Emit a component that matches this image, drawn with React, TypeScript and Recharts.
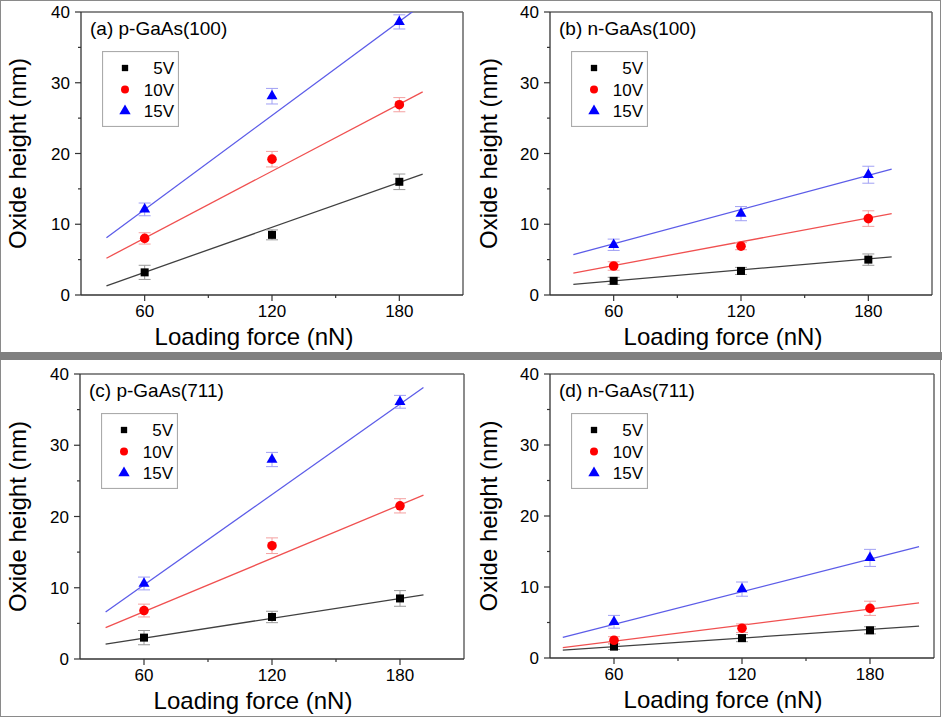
import React from 'react';
import {
  ComposedChart,
  Scatter,
  Line,
  XAxis,
  YAxis,
  ErrorBar,
  ReferenceLine,
  Legend,
  Symbols,
} from 'recharts';

const FONT = '"Liberation Sans", Arial, sans-serif';
const AXIS_COLOR = '#333';
const FRAME_COLOR = '#666';

const FORCES = [60, 120, 180];
const VOLTAGES = ['5V', '10V', '15V'];
const MARKER_COLORS = ['#000000', '#ff0000', '#0000ff'];
const FIT_COLORS = ['#404040', '#f05050', '#5c5ce8'];
const ERR_COLORS = ['#9a9a9a', '#f4a0a0', '#a0a0f4'];
const SHAPES = ['square', 'circle', 'triangle'];
const SHAPE_SIZES = [64, 72, 52];

const X_TICKS = [60, 90, 120, 150, 180];
const X_LABELS = [60, 120, 180];
const Y_TICKS = [0, 5, 10, 15, 20, 25, 30, 35, 40];
const Y_LABELS = [0, 10, 20, 30, 40];

const TITLES = ['(a) p-GaAs(100)', '(b) n-GaAs(100)', '(c) p-GaAs(711)', '(d) n-GaAs(711)'];

// oxide height (nm) per voltage (5V, 10V, 15V) at 60 / 120 / 180 nN
const HEIGHT_A = [[3.2, 8.5, 16.0], [8.0, 19.2, 26.9], [12.1, 28.1, 38.6]];
const HEIGHT_B = [[2.0, 3.4, 5.0], [4.1, 6.9, 10.8], [7.1, 11.5, 17.0]];
const HEIGHT_C = [[3.0, 5.9, 8.5], [6.8, 15.9, 21.5], [10.6, 28.0, 36.1]];
const HEIGHT_D = [[1.6, 2.8, 3.9], [2.5, 4.2, 7.0], [5.1, 9.7, 14.1]];

const ERR_A = [[1.0, 0.7, 1.1], [0.8, 1.1, 1.0], [0.9, 1.1, 1.0]];
const ERR_B = [[0.5, 0.5, 0.8], [0.6, 0.5, 1.1], [0.8, 1.0, 1.2]];
const ERR_C = [[1.0, 0.8, 1.1], [0.9, 1.1, 1.0], [0.9, 1.0, 0.9]];
const ERR_D = [[0.4, 0.5, 0.5], [0.5, 0.6, 1.0], [0.9, 1.0, 1.2]];

// linear fit end points
const FIT_X_A = [42, 191];
const FIT_Y_A = [[1.3, 17.1], [5.2, 28.7], [8.1, 41.1]];
const FIT_X_B = [41, 191];
const FIT_Y_B = [[1.5, 5.4], [3.1, 11.5], [5.7, 17.8]];
const FIT_X_C = [42, 191];
const FIT_Y_C = [[2.1, 9.0], [4.4, 23.0], [6.6, 38.1]];
const FIT_X_D = [36, 203];
const FIT_Y_D = [[1.1, 4.5], [1.45, 7.75], [2.9, 15.7]];

const PANELS = [
  { title: TITLES[0], heights: HEIGHT_A, errors: ERR_A, fitX: FIT_X_A, fitY: FIT_Y_A,
    left: 0, top: 0, width: 471, height: 352, plotTop: 12, plotRight: 8, axisWidth: 81, axisHeight: 57 },
  { title: TITLES[1], heights: HEIGHT_B, errors: ERR_B, fitX: FIT_X_B, fitY: FIT_Y_B,
    left: 471, top: 0, width: 471, height: 352, plotTop: 12, plotRight: 10, axisWidth: 79, axisHeight: 57 },
  { title: TITLES[2], heights: HEIGHT_C, errors: ERR_C, fitX: FIT_X_C, fitY: FIT_Y_C,
    left: 0, top: 360, width: 471, height: 358, plotTop: 14, plotRight: 7, axisWidth: 80, axisHeight: 59 },
  { title: TITLES[3], heights: HEIGHT_D, errors: ERR_D, fitX: FIT_X_D, fitY: FIT_Y_D,
    left: 471, top: 360, width: 471, height: 358, plotTop: 14, plotRight: 8, axisWidth: 79, axisHeight: 60 },
];

const XTick = ({ x, y, payload }: any) => {
  const major = X_LABELS.includes(payload.value);
  return (
    <g>
      <line x1={x} x2={x} y1={y} y2={y + (major ? 6 : 3)} stroke={AXIS_COLOR} strokeWidth={1.2} />
      {major && (
        <text x={x} y={y + 10} dy="0.72em" textAnchor="middle" fontSize={17} fontFamily={FONT} fill="#000">
          {payload.value}
        </text>
      )}
    </g>
  );
};

const YTick = ({ x, y, payload }: any) => {
  const major = Y_LABELS.includes(payload.value);
  return (
    <g>
      <line x1={x - (major ? 6 : 3)} x2={x} y1={y} y2={y} stroke={AXIS_COLOR} strokeWidth={1.2} />
      {major && (
        <text x={x - 11} y={y} dy="0.36em" textAnchor="end" fontSize={17} fontFamily={FONT} fill="#000">
          {payload.value}
        </text>
      )}
    </g>
  );
};

const YLabel = ({ viewBox }: any) => {
  const cx = viewBox.x + 26;
  const cy = viewBox.y + viewBox.height / 2;
  return (
    <text x={cx} y={cy} transform={`rotate(-90, ${cx}, ${cy})`} textAnchor="middle" fontSize={24} fontFamily={FONT} fill="#000">
      Oxide height (nm)
    </text>
  );
};

const XLabel = ({ viewBox }: any) => (
  <text x={viewBox.x + 173} y={viewBox.y + 50} textAnchor="middle" fontSize={24} fontFamily={FONT} fill="#000">
    Loading force (nN)
  </text>
);

const makeTitle = (title: string) => ({ viewBox }: any) => (
  <text x={viewBox.x + 9} y={viewBox.y + 23} fontSize={19} fontFamily={FONT} fill="#000">
    {title}
  </text>
);

const LegendBox = () => (
  <svg width={77} height={76} style={{ display: 'block' }}>
    <rect x={0.5} y={0.5} width={76} height={75} fill="#fff" stroke="#ababab" strokeWidth={1.2} />
    {VOLTAGES.map((v, i) => (
      <g key={v}>
        <Symbols cx={23} cy={17 + i * 21.5} type={SHAPES[i] as any} size={[40, 50, 56][i]} fill={MARKER_COLORS[i]} />
        <text x={72} y={17 + i * 21.5} dy="0.36em" textAnchor="end" fontSize={17} fontFamily={FONT} fill="#000">
          {v}
        </text>
      </g>
    ))}
  </svg>
);

const marker = (i: number) => (p: any) => (
  <Symbols cx={p.cx} cy={p.cy} type={SHAPES[i] as any} size={SHAPE_SIZES[i]} fill={MARKER_COLORS[i]} />
);

const Panel = ({ p }: { p: (typeof PANELS)[number] }) => {
  const points = (i: number) => FORCES.map((x, j) => ({ x, y: p.heights[i][j], err: p.errors[i][j] }));
  const fit = (i: number) => p.fitX.map((x, j) => ({ x, y: p.fitY[i][j] }));
  return (
    <div style={{ position: 'absolute', left: p.left, top: p.top }}>
      <ComposedChart
        width={p.width}
        height={p.height}
        margin={{ top: p.plotTop, right: p.plotRight, bottom: 0, left: 0 }}
      >
        <XAxis
          type="number"
          dataKey="x"
          domain={[30, 210]}
          allowDataOverflow
          ticks={X_TICKS}
          interval={0}
          tickSize={0}
          tickMargin={0}
          tickLine={false}
          height={p.axisHeight}
          axisLine={{ stroke: AXIS_COLOR, strokeWidth: 1.3 }}
          tick={<XTick />}
          label={{ content: XLabel }}
        />
        <YAxis
          type="number"
          domain={[0, 40]}
          allowDataOverflow
          ticks={Y_TICKS}
          interval={0}
          tickSize={0}
          tickMargin={0}
          tickLine={false}
          width={p.axisWidth}
          axisLine={{ stroke: AXIS_COLOR, strokeWidth: 1.3 }}
          tick={<YTick />}
          label={{ content: YLabel }}
        />
        <ReferenceLine y={40} stroke={FRAME_COLOR} strokeWidth={1.5} label={{ content: makeTitle(p.title) }} />
        <ReferenceLine x={210} stroke={FRAME_COLOR} strokeWidth={1.5} />
        {VOLTAGES.map((v, i) => (
          <Line
            key={`fit-${v}`}
            data={fit(i)}
            dataKey="y"
            type="linear"
            stroke={FIT_COLORS[i]}
            strokeWidth={1.3}
            dot={false}
            activeDot={false}
            legendType="none"
            isAnimationActive={false}
          />
        ))}
        {VOLTAGES.map((v, i) => (
          <Scatter
            key={`pts-${v}`}
            name={v}
            data={points(i)}
            dataKey="y"
            fill={MARKER_COLORS[i]}
            shape={marker(i)}
            isAnimationActive={false}
          >
            <ErrorBar dataKey="err" direction="y" width={6} stroke={ERR_COLORS[i]} strokeWidth={1} />
          </Scatter>
        ))}
        <Legend
          layout="vertical"
          align="center"
          verticalAlign="middle"
          wrapperStyle={{ left: p.axisWidth + 21, top: p.plotTop + 39, width: 77, height: 76 }}
          content={() => <LegendBox />}
        />
      </ComposedChart>
    </div>
  );
};

const App = () => (
  <div style={{ position: 'absolute', left: 0, top: 0, width: 942, height: 718, background: '#fff' }}>
    <div
      style={{
        position: 'absolute',
        left: 0,
        top: 0,
        width: 941,
        height: 717,
        boxSizing: 'border-box',
        border: '1.5px solid #8a8a8a',
      }}
    />
    <div style={{ position: 'absolute', left: 0, top: 352, width: 942, height: 8, background: '#808080' }} />
    {PANELS.map((p) => (
      <Panel key={p.title} p={p} />
    ))}
  </div>
);

export default App;
